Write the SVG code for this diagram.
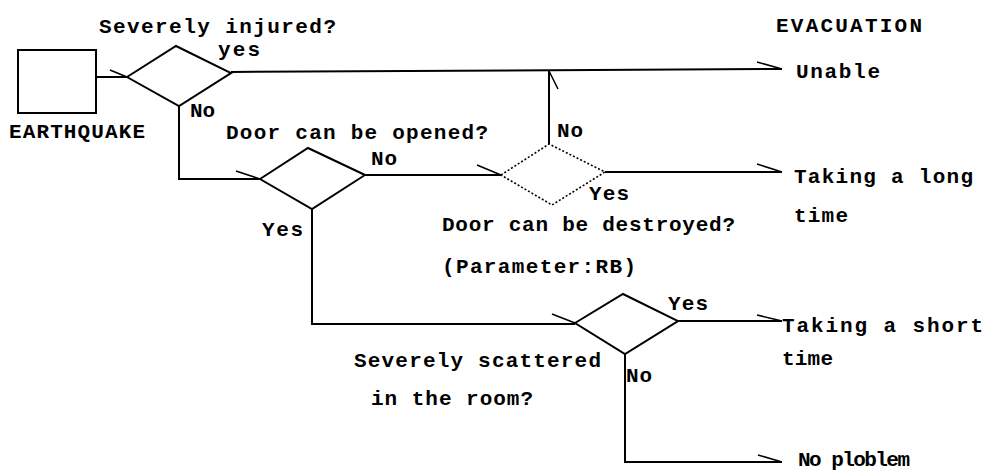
<svg xmlns="http://www.w3.org/2000/svg" width="985" height="472" viewBox="0 0 985 472">
<style>
.t{font-family:"Liberation Mono","Courier New",monospace;font-size:21px;font-weight:bold;fill:#000}
.s{fill:none;stroke:#000;stroke-width:2;stroke-linejoin:miter}
.d{fill:none;stroke:#000;stroke-width:1.6;stroke-dasharray:2 2}
.c{fill:none;stroke:#000;stroke-width:2}
.b{fill:none;stroke:#000;stroke-width:1.6}
</style>
<rect width="985" height="472" fill="#fff"/>
<g id="earthquake">
<rect class="s" x="18" y="50" width="78" height="63"/>
<text class="t" x="9" y="138" textLength="136" lengthAdjust="spacing">EARTHQUAKE</text>
</g>
<g id="injured">
<polygon class="s" points="127,77 176,46 231,73 179,106"/>
<text class="t" x="99" y="33" textLength="237" lengthAdjust="spacing">Severely injured?</text>
</g>
<g id="opened">
<polygon class="s" points="260,179 308,148 365,175 312,209"/>
<text class="t" x="226" y="139" textLength="262" lengthAdjust="spacing">Door can be opened?</text>
</g>
<g id="destroyed">
<polygon class="d" points="501,175 549,144 605,172 552,205"/>
<text class="t" x="442" y="231" textLength="293" lengthAdjust="spacing">Door can be destroyed?</text>
<text class="t" x="442" y="273" textLength="194" lengthAdjust="spacing">(Parameter:RB)</text>
</g>
<g id="scattered">
<polygon class="s" points="575,323 623,294 678,321 625,354"/>
<text class="t" x="354" y="367" textLength="247" lengthAdjust="spacing">Severely scattered</text>
<text class="t" x="371" y="405" textLength="162" lengthAdjust="spacing">in the room?</text>
</g>
<g id="evacuation">
<text class="t" x="776" y="32" textLength="146" lengthAdjust="spacing">EVACUATION</text>
</g>
<g id="unable">
<text class="t" x="796" y="78" textLength="84" lengthAdjust="spacing">Unable</text>
</g>
<g id="long">
<text class="t" x="794" y="183" textLength="179" lengthAdjust="spacing">Taking a long</text>
<text class="t" x="794" y="222" textLength="54" lengthAdjust="spacing">time</text>
</g>
<g id="short">
<text class="t" x="782" y="332" textLength="201" lengthAdjust="spacing">Taking a short</text>
<text class="t" x="782" y="365" textLength="51" lengthAdjust="spacing">time</text>
</g>
<g id="noproblem">
<text class="t" x="798" y="466" textLength="112" lengthAdjust="spacing">No ploblem</text>
</g>
<g id="connectors">
<path class="c" d="M96,77 H127"/>
<path class="b" d="M110,70 L127,77"/>
<path class="c" d="M231,72 L782,69"/>
<path class="b" d="M757,62 L782,69"/>
<path class="c" d="M179,106 V179 H260"/>
<path class="b" d="M236,171 L260,179"/>
<path class="c" d="M365,175 H501"/>
<path class="b" d="M477,165 L501,175"/>
<path class="c" d="M549,144 V71"/>
<path class="b" d="M558,89 L549,71"/>
<path class="c" d="M605,172 H782"/>
<path class="b" d="M757,164 L782,172"/>
<path class="c" d="M312,209 V324 H575"/>
<path class="b" d="M552,314 L575,323"/>
<path class="c" d="M678,321 H782"/>
<path class="b" d="M757,315 L782,321"/>
<path class="c" d="M625,354 V462 H782"/>
<path class="b" d="M758,455 L782,462"/>
<text class="t" x="218" y="56" textLength="42" lengthAdjust="spacing">yes</text>
<text class="t" x="190" y="117" textLength="25" lengthAdjust="spacing">No</text>
<text class="t" x="371" y="165" textLength="26" lengthAdjust="spacing">No</text>
<text class="t" x="557" y="137" textLength="26" lengthAdjust="spacing">No</text>
<text class="t" x="589" y="200" textLength="40" lengthAdjust="spacing">Yes</text>
<text class="t" x="262" y="236" textLength="41" lengthAdjust="spacing">Yes</text>
<text class="t" x="668" y="310" textLength="40" lengthAdjust="spacing">Yes</text>
<text class="t" x="626" y="382" textLength="26" lengthAdjust="spacing">No</text>
</g>
</svg>
